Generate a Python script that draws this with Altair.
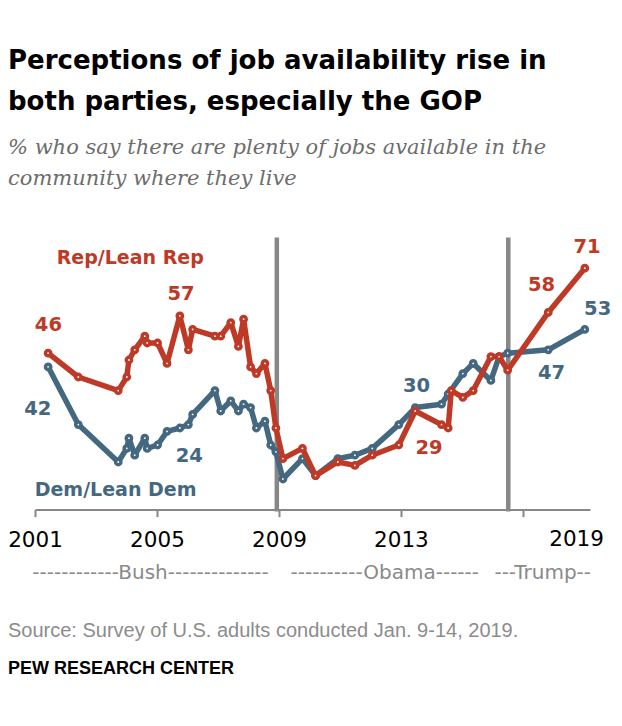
import altair as alt
import pandas as pd

# ---------------- data ----------------
survey_dates = [2001.43, 2002.42, 2003.73, 2004.01, 2004.08, 2004.27, 2004.60, 2004.68,
                2005.02, 2005.33, 2005.75, 2006.03, 2006.17, 2006.90, 2007.09, 2007.42,
                2007.67, 2007.84, 2008.07, 2008.26, 2008.54, 2008.73, 2008.90, 2009.13,
                2009.77, 2010.20, 2010.93, 2011.49, 2012.06, 2012.93, 2013.47, 2014.33,
                2014.55, 2014.65, 2015.03, 2015.37, 2015.95, 2016.22, 2016.50, 2017.83,
                2019.03]
rep_values = [46, 39, 35, 39, 44, 47, 51, 49,
              49, 43, 57, 47, 53, 51, 51, 55,
              48, 56, 42, 40, 43, 35, 24, 15,
              18, 10, 14, 13, 16, 19, 29, 25,
              24, 35, 33, 35, 45, 45, 41, 58,
              71]
dem_values = [42, 25, 14, 18, 21, 16, 21, 18,
              19, 23, 24, 25, 28, 35, 29, 32,
              29, 31, 30, 24, 26, 19, 17, 9,
              15, 10, 15, 16, 18, 25, 30, 31,
              34, None, 40, 43, 38, 45, 46, 47,
              53]

era_line_dates = [2008.93, 2016.52]

label_text = ["46", "42", "57", "24", "30", "29", "71", "58", "53", "47"]
label_party = ["Rep", "Dem", "Rep", "Dem", "Dem", "Rep", "Rep", "Rep", "Dem", "Dem"]
label_date = [2001.44, 2001.09, 2005.79, 2006.06, 2013.51, 2013.92, 2019.10, 2017.61, 2019.45, 2017.94]
label_value = [52.5, 27.8, 61.6, 14.1, 34.7, 16.4, 75.4, 64.3, 57.2, 38.4]

series_names = ["Rep/Lean Rep", "Dem/Lean Dem"]
series_party = ["Rep", "Dem"]
series_date = [2001.71, 2000.99]
series_value = [72.1, 4.1]

era_names = ["------------Bush--------------", "----------Obama------", "---Trump--"]
era_centers = [2004.79, 2012.47, 2017.65]

tick_years = [2001, 2005, 2009, 2013, 2017]
last_label = "2019"
last_label_date = 2018.76

title_lines = ["Perceptions of job availability rise in", "both parties, especially the GOP"]
subtitle_lines = ["% who say there are plenty of jobs available in the", "community where they live"]
source_text = "Source: Survey of U.S. adults conducted Jan. 9-14, 2019."
credit_text = "PEW RESEARCH CENTER"

# ---------------- styling ----------------
REP = "#be3a27"
DEM = "#44687f"
GRAY = "#878787"
W, H = 555, 272
PAD_L, PAD_T = 27.0, 229.6

rows = []
for t, r, d in zip(survey_dates, rep_values, dem_values):
    if r is not None:
        rows.append({"year": t, "value": r, "party": "Rep"})
    if d is not None:
        rows.append({"year": t, "value": d, "party": "Dem"})
df = pd.DataFrame(rows)
df_rep = df[df.party == "Rep"]
df_dem = df[df.party == "Dem"]

xs = alt.Scale(domain=[2001, 2019.2], nice=False, zero=False)
ys = alt.Scale(domain=[0, 80], nice=False, zero=True)

x_axis = alt.Axis(values=tick_years, format="d",
                  labelExpr="datum.value == 2017 ? '' : datum.label",
                  title=None, grid=False, labelFlush=False, labelOverlap=False,
                  labelFont="DejaVu Sans", labelFontSize=21.5, labelColor="#000000",
                  labelBaseline="alphabetic", labelPadding=29.4,
                  tickSize=7, tickColor=GRAY, tickWidth=2,
                  domainColor=GRAY, domainWidth=2)

X = alt.X("year:Q", scale=xs, axis=x_axis)
Y = alt.Y("value:Q", scale=ys, axis=None)

rules = alt.Chart(pd.DataFrame({"year": era_line_dates})).mark_rule(
    color=GRAY, strokeWidth=4.5).encode(x=X, y=alt.value(0), y2=alt.value(H + 2))

def series(d, color):
    line = alt.Chart(d).mark_line(color=color, strokeWidth=5.5, strokeJoin="round",
                                  strokeCap="round").encode(x=X, y=Y)
    pts = alt.Chart(d).mark_circle(fill="white", stroke=color, strokeWidth=3.5,
                                   size=28, opacity=1).encode(x=X, y=Y)
    return line, pts

dem_line, dem_pts = series(df_dem, DEM)
rep_line, rep_pts = series(df_rep, REP)

color_map = alt.Scale(domain=["Rep", "Dem"], range=[REP, DEM])

lab_df = pd.DataFrame({"text": label_text, "party": label_party,
                       "year": label_date, "value": label_value})
value_labels = alt.Chart(lab_df).mark_text(
    font="DejaVu Sans", fontWeight="bold", fontSize=19.5, align="center",
    baseline="alphabetic").encode(x=X, y=Y, text="text:N",
                                  color=alt.Color("party:N", scale=color_map, legend=None))

ser_df = pd.DataFrame({"text": series_names, "party": series_party,
                       "year": series_date, "value": series_value})
series_labels = alt.Chart(ser_df).mark_text(
    font="DejaVu Sans", fontWeight="bold", fontSize=19, align="left",
    baseline="alphabetic").encode(x=X, y=Y, text="text:N",
                                  color=alt.Color("party:N", scale=color_map, legend=None))

era_df = pd.DataFrame({"text": era_names, "year": era_centers})
era_labels = alt.Chart(era_df).mark_text(
    font="DejaVu Sans", fontSize=20, color="#8a8a8a", align="center",
    baseline="alphabetic").encode(x=X, y=alt.value(341.4), text="text:N")

last_df = pd.DataFrame({"text": [last_label], "year": [last_label_date]})
last_tick = alt.Chart(last_df).mark_text(
    font="DejaVu Sans", fontSize=21.5, color="#000000", align="center",
    baseline="alphabetic").encode(x=X, y=alt.value(H + 36.4), text="text:N")

def free_text(txt, x, y, **kw):
    return alt.Chart(pd.DataFrame({"t": [txt]})).mark_text(
        align="left", baseline="alphabetic", **kw).encode(
        text="t:N", x=alt.value(x), y=alt.value(y))

title1 = free_text(title_lines[0], -PAD_L, -168.3, font="DejaVu Sans",
                   fontWeight="bold", fontSize=26, color="#000000")
title2 = free_text(title_lines[1], -PAD_L, -127.6, font="DejaVu Sans",
                   fontWeight="bold", fontSize=26, color="#000000")
sub1 = free_text(subtitle_lines[0], -PAD_L, -83.6, font="DejaVu Serif",
                 fontStyle="italic", fontSize=21, color="#6d6d6d")
sub2 = free_text(subtitle_lines[1], -PAD_L, -52.6, font="DejaVu Serif",
                 fontStyle="italic", fontSize=21, color="#6d6d6d")
src = free_text(source_text, -PAD_L, 399.7, font="Liberation Sans",
                fontSize=20, color="#8c8c8c")
credit = free_text(credit_text, -PAD_L, 436.4, font="Liberation Sans",
                   fontWeight="bold", fontSize=18, color="#000000")

chart = alt.layer(
    rules, dem_line, dem_pts, rep_line, rep_pts,
    value_labels, series_labels, era_labels, last_tick,
    title1, title2, sub1, sub2, src, credit
).properties(
    width=W, height=H,
    autosize=alt.AutoSizeParams(type="none"),
    padding={"left": PAD_L, "top": PAD_T, "right": 24.0, "bottom": 208.4},
    background="white"
).configure_view(stroke=None)

chart.save("out.html", embed_options={"renderer": "svg", "actions": False})
